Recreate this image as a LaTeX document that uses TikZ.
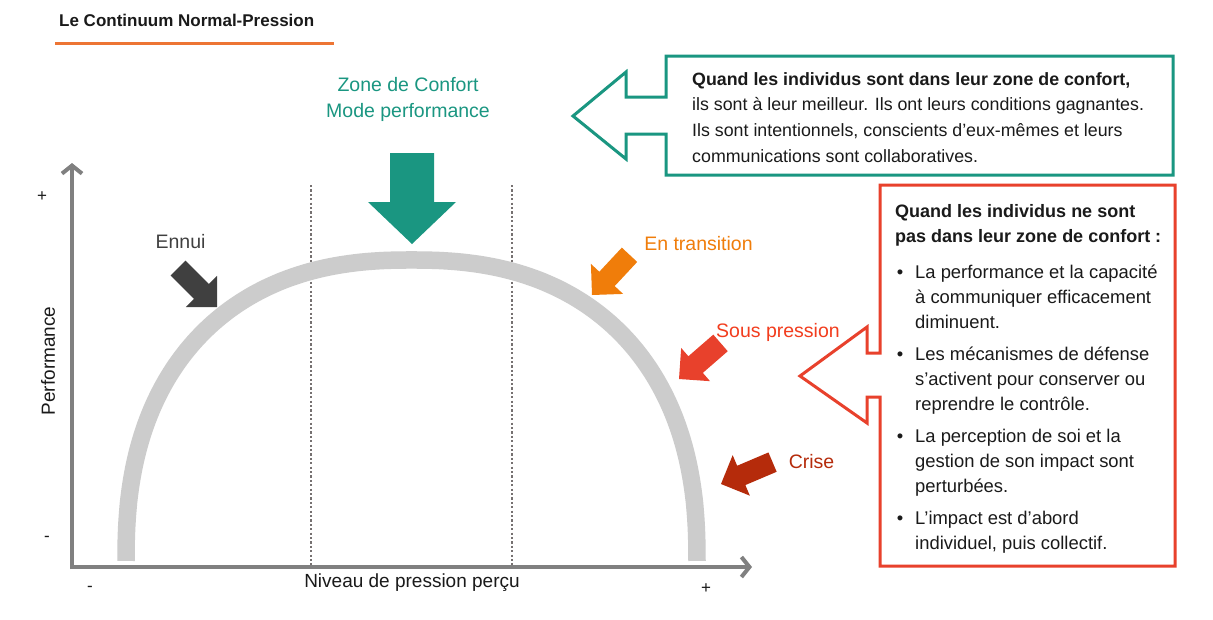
\documentclass[tikz,border=0pt]{standalone}
\usepackage{fontspec}
\setmainfont{Liberation Sans}
\usetikzlibrary{arrows.meta}
\definecolor{tealc}{HTML}{1A9681}
\definecolor{redc}{HTML}{E8412C}
\definecolor{redtxt}{HTML}{F23D1E}
\definecolor{orangec}{HTML}{F07D0A}
\definecolor{crisec}{HTML}{B52B0B}
\definecolor{darkc}{HTML}{404040}
\definecolor{axisc}{HTML}{808080}
\definecolor{arcc}{HTML}{CCCCCC}
\definecolor{dotc}{HTML}{767171}
\definecolor{titleline}{HTML}{ED7534}
\definecolor{txtc}{HTML}{1A1A1A}
\newcommand\blkarrow[8]{% color, x, y, angle, L, hl, w, hw
  \begin{scope}[shift={(#2,#3)},rotate=#4]
    \fill[#1] (0,0) -- (-#6,#8/2) -- (-#6,#7/2) -- (-#5,#7/2) -- (-#5,-#7/2) -- (-#6,-#7/2) -- (-#6,-#8/2) -- cycle;
  \end{scope}}
\tikzset{
  lbl/.style={font=\fontsize{19.5}{24}\selectfont, inner sep=0pt},
  axlbl/.style={font=\fontsize{19}{23}\selectfont, text=txtc, inner sep=0pt},
  sign/.style={font=\fontsize{17}{19}\selectfont, text=txtc, inner sep=0pt},
  boxtxt/.style={font=\fontsize{17.8}{25.7}\selectfont, text=txtc, inner sep=0pt, align=left},
  redtxtst/.style={font=\fontsize{18.4}{25.4}\selectfont, text=txtc, inner sep=0pt, align=left},
  axis/.style={draw=axisc, line width=4, -{Straight Barb[length=8pt,width=20pt]}},
  dotl/.style={draw=dotc, line width=2.2, dash pattern=on 2.2pt off 2.2pt},
  callout/.style={line width=3, fill=white},
}
\begin{document}
\begin{tikzpicture}[x=1pt,y=-1pt]
\useasboundingbox (0,0) rectangle (1213,619);
\fill[white] (0,0) rectangle (1213,619);

% title
\node[anchor=base west, inner sep=0pt, font=\bfseries\fontsize{17}{20}\selectfont, text=txtc] (title) at (59,26) {Le Continuum Normal-Pression};
\draw[titleline, line width=3] (55,43) -- (334,43);

% dotted guides
\coordinate (d1t) at (311,185); \coordinate (d1b) at (311,566);
\coordinate (d2t) at (512,185); \coordinate (d2b) at (512,566);
\draw[dotl] (d1t) -- (d1b);
\draw[dotl] (d2t) -- (d2b);

% arc
\draw[arcc, line width=17.5] plot[domain=180:0, samples=180, variable=\t]
  ({411.5 + 285.5*cos(\t)*(abs(cos(\t))+0.00001)^(-0.15)}, {561 - 301*(sin(\t)+0.00001)^0.85});

% axes
\coordinate (o) at (72,567);
\coordinate (ytop) at (72,163);
\coordinate (xend) at (752,567);
\draw[axis] (72,569) -- (ytop);
\draw[axis] (70,567) -- (xend);

\node[sign] (yplus) at (42,197) {+};
\node[sign] (yminus) at (47,539) {-};
\node[sign] (xminus) at (90,589) {-};
\node[sign] (xplus) at (706,589) {+};
\node[axlbl, rotate=90] (perf) at (48,361) {Performance};
\node[axlbl, anchor=base] (niv) at (412,587) {Niveau de pression perçu};

% zone de confort
\node[lbl, text=tealc, anchor=base, align=center, font=\fontsize{19.5}{26}\selectfont] (zone) at (408,117) {Zone de Confort\\Mode performance};
\blkarrow{tealc}{412}{244}{-90}{91}{42}{44}{88}

% small arrows and labels
\node[lbl, text=darkc, anchor=base] (ennui) at (180.5,248) {Ennui};
\blkarrow{darkc}{217}{307}{-45}{55}{22}{21}{44}
\node[lbl, text=orangec, anchor=base] (trans) at (698.5,250) {En transition};
\blkarrow{orangec}{592}{295}{-133}{55}{22}{21}{44}
\node[lbl, text=redtxt, anchor=base] (sous) at (778,337) {Sous pression};
\blkarrow{redc}{679}{379}{-139}{55}{22}{22}{44}
\node[lbl, text=crisec, anchor=base] (crise) at (811.5,468) {Crise};
\blkarrow{crisec}{721}{484}{-157}{56}{22}{21}{44}

% teal callout
\draw[callout, draw=tealc] (666,56) -- (1173,56) -- (1173,175) -- (666,175) -- (666,134) -- (626,134) -- (626,159) -- (573,116) -- (626,72) -- (626,97) -- (666,97) -- cycle;
\node[boxtxt, anchor=base west] (conf) at (692,162.1) {\textbf{Quand les individus sont dans leur zone de confort,}\\ils sont à leur meilleur. Ils ont leurs conditions gagnantes.\\Ils sont intentionnels, conscients d’eux-mêmes et leurs\\communications sont collaboratives.};

% red callout
\draw[callout, draw=redc] (880,185) -- (1175,185) -- (1175,566) -- (880,566) -- (880,397) -- (867,397) -- (867,423) -- (800,376) -- (867,327) -- (867,353) -- (880,353) -- cycle;
\node[redtxtst, anchor=base west, font=\bfseries\fontsize{18}{25.4}\selectfont] (head) at (895,242.4) {Quand les individus ne sont\\pas dans leur zone de confort :};
\node[redtxtst, anchor=base] (b1) at (900,278) {•};
\node[redtxtst, anchor=base west] (t1) at (915,328.8) {La performance et la capacité\\à communiquer efficacement\\diminuent.};
\node[redtxtst, anchor=base] (b2) at (900,360) {•};
\node[redtxtst, anchor=base west] (t2) at (915,410.8) {Les mécanismes de défense\\s’activent pour conserver ou\\reprendre le contrôle.};
\node[redtxtst, anchor=base] (b3) at (900,442) {•};
\node[redtxtst, anchor=base west] (t3) at (915,492.8) {La perception de soi et la\\gestion de son impact sont\\perturbées.};
\node[redtxtst, anchor=base] (b4) at (900,524) {•};
\node[redtxtst, anchor=base west] (t4) at (915,549.4) {L’impact est d’abord\\individuel, puis collectif.};
\end{tikzpicture}
\end{document}
